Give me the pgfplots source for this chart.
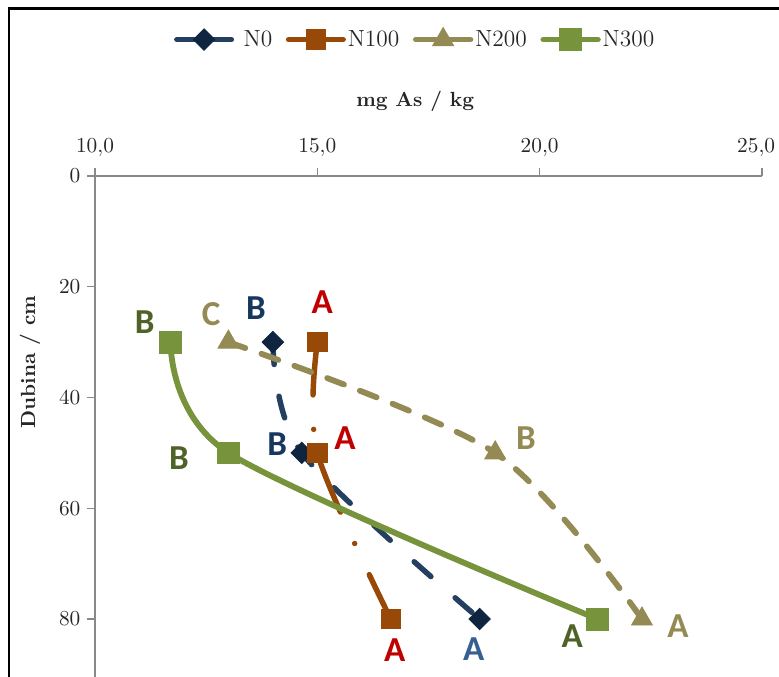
\documentclass[border=0pt]{standalone}
\usepackage{fontspec}
\usepackage{pgfplots}
\pgfplotsset{compat=1.18}
\newfontfamily\labfont{Carlito}
\newcommand\lab{\fontsize{18}{20}\selectfont\labfont\bfseries}
\definecolor{axisgrey}{HTML}{898989}
\definecolor{ticktext}{HTML}{262626}
\definecolor{nzline}{HTML}{243F60}
\definecolor{nzmark}{HTML}{0F243E}
\definecolor{nzlab}{HTML}{17375E}
\definecolor{nzlabA}{HTML}{376092}
\definecolor{brown}{HTML}{984807}
\definecolor{khaki}{HTML}{948A54}
\definecolor{green3}{HTML}{77933C}
\definecolor{greenlab}{HTML}{4F6228}
\definecolor{redlab}{HTML}{C00000}
\begin{document}
\begin{tikzpicture}
\useasboundingbox (0pt,0pt) rectangle (400pt,-347.6pt);
\clip (0pt,0pt) rectangle (400pt,-347.6pt);
\draw[line width=1.1pt, black] (4.6pt,-360pt) -- (4.6pt,-4.4pt) -- (420pt,-4.4pt);
\begin{axis}[
  at={(48.78pt,-90.37pt)}, anchor=north west,
  scale only axis, width=342.5pt, height=257.25pt,
  xmin=10, xmax=25, ymin=0, ymax=90.47, y dir=reverse,
  axis x line=top, axis y line=left,
  axis line style={-, draw=axisgrey, line width=0.75pt},
  tick style={draw=axisgrey, line width=0.75pt},
  tick align=outside, major tick length=4pt,
  xtick={10,15,20}, ytick={0,20,40,60,80},
  extra x ticks={25},
  extra x tick style={xticklabel style={xshift=-3pt}},
  minor tick num=0,
  xticklabel style={/pgf/number format/fixed, /pgf/number format/fixed zerofill, /pgf/number format/precision=1, /pgf/number format/use comma},
  xticklabel shift=2.5pt,
  ticklabel style={font=\fontsize{10.8}{13}\selectfont, text=ticktext},
  xlabel={\textbf{mg As / kg}},
  xlabel style={at={(axis description cs:0.48,1.148)}, anchor=center, font=\fontsize{10.5}{12}\selectfont, text=ticktext},
  ylabel={\textbf{Dubina / cm}},
  ylabel style={at={(axis description cs:-0.0975,0.629)}, anchor=center, font=\fontsize{10.5}{12}\selectfont, text=ticktext},
  clip=false,
  legend columns=4,
  legend style={draw=none, fill=none, at={(axis description cs:0.48,1.273)}, anchor=center,
    font=\fontsize{12}{14}\selectfont, text=ticktext,
    /tikz/every even column/.append style={column sep=6pt},
    nodes={inner sep=1pt}},
  legend image code/.code={\draw[mark repeat=2,mark phase=2,#1,solid] plot coordinates {(0pt,0pt) (14pt,0pt) (28pt,0pt)};},
]
\addplot[nzline, line width=2.8pt, smooth, line cap=round, dash pattern=on 11.5pt off 16.5pt,
  mark=square*, mark size=3.9pt, mark options={rotate=45, solid, fill=nzmark, draw=nzmark, line width=0.4pt}]
  coordinates {(14.0,30) (14.65,50) (18.65,80)};
\addlegendentry{\ N0}
\addplot[brown, line width=2.8pt, smooth, line cap=round, dash pattern=on 27.2pt off 17.7pt on 0pt off 17.7pt,
  mark=square*, mark size=5.0pt, mark options={solid, fill=brown, draw=brown, line width=0.4pt}]
  coordinates {(15.0,30) (15.0,50) (16.65,80)};
\addlegendentry{N100}
\addplot[khaki, line width=3pt, smooth, line cap=round, dash pattern=on 9.2pt off 8.8pt,
  mark=triangle*, mark size=6.2pt, mark options={solid, fill=khaki, draw=khaki, line width=0.4pt}]
  coordinates {(13.0,30) (19.0,50) (22.3,80)};
\addlegendentry{N200}
\addplot[green3, line width=3pt, smooth, line cap=round,
  mark=square*, mark size=5.6pt, mark options={solid, fill=green3, draw=green3, line width=0.4pt}]
  coordinates {(11.7,30) (13.0,50) (21.3,80)};
\addlegendentry{N300}
\node[text=greenlab] at (axis cs:11.12,26.4) {\lab B};
\node[text=khaki] at (axis cs:12.61,24.9) {\lab C};
\node[text=nzlab] at (axis cs:13.62,23.8) {\lab B};
\node[text=redlab] at (axis cs:15.11,22.7) {\lab A};
\node[text=greenlab] at (axis cs:11.89,51.0) {\lab B};
\node[text=nzlab] at (axis cs:14.10,48.5) {\lab B};
\node[text=redlab] at (axis cs:15.62,47.4) {\lab A};
\node[text=khaki] at (axis cs:19.69,47.4) {\lab B};
\node[text=redlab] at (axis cs:16.74,85.7) {\lab A};
\node[text=nzlabA] at (axis cs:18.52,85.4) {\lab A};
\node[text=greenlab] at (axis cs:20.73,83.1) {\lab A};
\node[text=khaki] at (axis cs:23.11,81.2) {\lab A};
\end{axis}
\end{tikzpicture}
\end{document}
